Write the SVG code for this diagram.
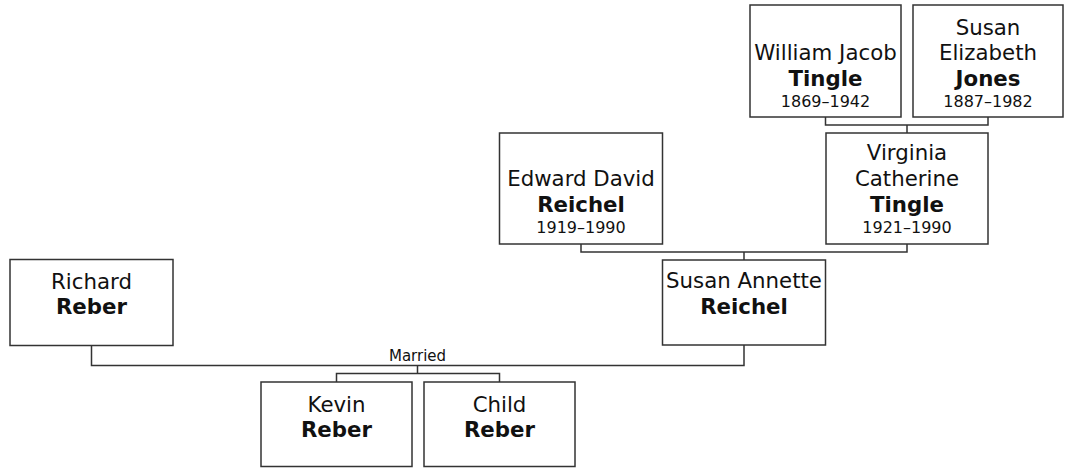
<svg xmlns="http://www.w3.org/2000/svg" width="1066" height="468" viewBox="0 0 1066 468">
<style>
.box{fill:#fff;stroke:#333;stroke-width:1.5}
.ln{fill:none;stroke:#333;stroke-width:1.5}
text{font-family:"DejaVu Sans",Verdana,sans-serif;fill:#111;text-anchor:middle}
.n{font-size:21.3px}
.s{font-size:21.3px;font-weight:bold}
.d{font-size:16px}
.m{font-size:15px}
</style>
<rect width="1066" height="468" fill="#fff"/>
<g id="connectors">
<path class="ln" d="M825.5,117 V125 H988 V117 M907,125 V133"/>
<path class="ln" d="M581,244 V252 H907 V244 M744,252 V260"/>
<path class="ln" d="M91.5,345.5 V365.5 H744 V345 M417.5,365.5 V373.5 M336.5,382 V373.5 H499.5 V382"/>
<text class="m" x="417.5" y="361">Married</text>
</g>
<g id="william">
<rect class="box" x="750" y="5" width="151" height="112"/>
<text class="n" x="825.5" y="60">William Jacob</text>
<text class="s" x="825.5" y="85.5">Tingle</text>
<text class="d" x="825.5" y="107">1869–1942</text>
</g>
<g id="susanE">
<rect class="box" x="913" y="5" width="150" height="112"/>
<text class="n" x="988" y="34.5">Susan</text>
<text class="n" x="988" y="60">Elizabeth</text>
<text class="s" x="988" y="85.5">Jones</text>
<text class="d" x="988" y="107">1887–1982</text>
</g>
<g id="virginia">
<rect class="box" x="826" y="133" width="162" height="111"/>
<text class="n" x="907" y="160">Virginia</text>
<text class="n" x="907" y="186">Catherine</text>
<text class="s" x="907" y="211.5">Tingle</text>
<text class="d" x="907" y="233">1921–1990</text>
</g>
<g id="edward">
<rect class="box" x="499.5" y="133" width="163" height="111"/>
<text class="n" x="581" y="186">Edward David</text>
<text class="s" x="581" y="212">Reichel</text>
<text class="d" x="581" y="233">1919–1990</text>
</g>
<g id="susanA">
<rect class="box" x="662.5" y="260" width="163" height="85"/>
<text class="n" x="744" y="288">Susan Annette</text>
<text class="s" x="744" y="313.5">Reichel</text>
</g>
<g id="richard">
<rect class="box" x="10" y="259.5" width="163" height="86"/>
<text class="n" x="91.5" y="288.5">Richard</text>
<text class="s" x="91.5" y="313.5">Reber</text>
</g>
<g id="kevin">
<rect class="box" x="261" y="382" width="151" height="84.5"/>
<text class="n" x="336.5" y="411.5">Kevin</text>
<text class="s" x="336.5" y="436.5">Reber</text>
</g>
<g id="child">
<rect class="box" x="424" y="382" width="151" height="84.5"/>
<text class="n" x="499.5" y="411.5">Child</text>
<text class="s" x="499.5" y="436.5">Reber</text>
</g>
</svg>
